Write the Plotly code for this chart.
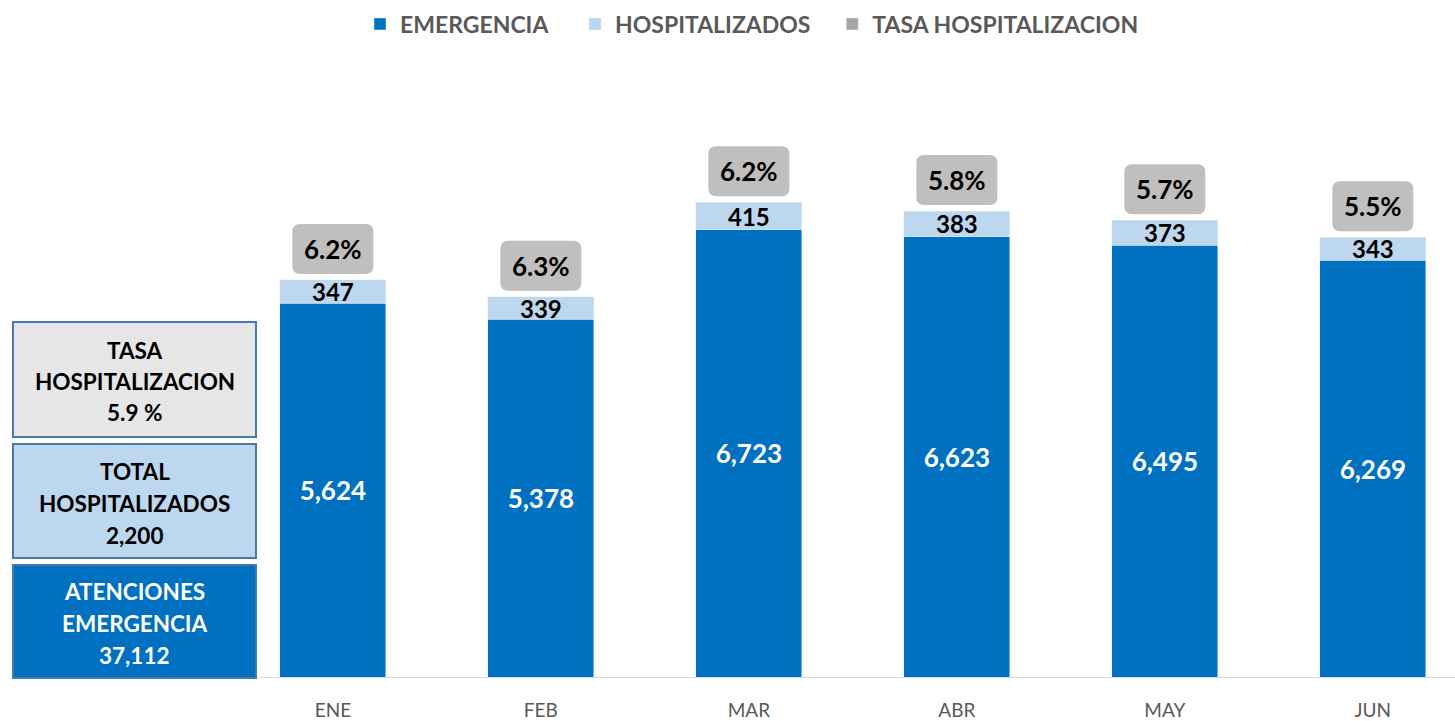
import plotly.graph_objects as go

months = ["ENE", "FEB", "MAR", "ABR", "MAY", "JUN"]
emergencia = [5624, 5378, 6723, 6623, 6495, 6269]
hospitalizados = [347, 339, 415, 383, 373, 343]
tasa = [6.2, 6.3, 6.2, 5.8, 5.7, 5.5]
tasa_total = 5.9

C_EMER = "#0070C0"
C_HOSP = "#BDD7EE"
C_TASA = "#BFBFBF"
C_TASA_LEG = "#A5A5A5"
FONT = "Lato"
NB = "\u00a0"

W, H = 1455, 721
ML, MR, MT, MB = 258, 0, 60, 44
plot_w = W - ML - MR
plot_h = H - MT - MB
YMAX = 9278
XR = [-0.36, 5.395]
ppu = plot_h / YMAX
ppx = plot_w / (XR[1] - XR[0])

fig = go.Figure()
fig.add_trace(go.Bar(
    x=months, y=emergencia, name="EMERGENCIA" + NB * 4, marker_color=C_EMER, width=0.51,
    text=[f"{v:,}" for v in emergencia], textposition="inside", insidetextanchor="middle",
    textfont=dict(family=FONT, size=26, color="white", weight="bold"),
    hoverinfo="skip",
))
fig.add_trace(go.Bar(
    x=months, y=hospitalizados, name="HOSPITALIZADOS" + NB * 3, marker_color=C_HOSP, width=0.51,
    hoverinfo="skip",
))
fig.add_trace(go.Bar(
    x=months, y=[None] * len(months), name="TASA HOSPITALIZACION", marker_color=C_TASA_LEG,
    hoverinfo="skip",
))

shapes = []
annotations = []
for i, m in enumerate(months):
    e, h, t = emergencia[i], hospitalizados[i], tasa[i]
    annotations.append(dict(x=m, y=e + h / 2, text=f"{h:,}", showarrow=False,
                            font=dict(family=FONT, size=24, color="black", weight="bold"),
                            xref="x", yref="y"))
    cy = e + h + 31 / ppu
    hw, hh = 40.5 / ppx, 25 / ppu
    rx, ry = 8 / ppx, 8 / ppu
    x0, x1 = i - hw, i + hw
    y0, y1 = cy - hh, cy + hh
    path = (f"M {x0+rx},{y0} L {x1-rx},{y0} Q {x1},{y0} {x1},{y0+ry} "
            f"L {x1},{y1-ry} Q {x1},{y1} {x1-rx},{y1} L {x0+rx},{y1} "
            f"Q {x0},{y1} {x0},{y1-ry} L {x0},{y0+ry} Q {x0},{y0} {x0+rx},{y0} Z")
    shapes.append(dict(type="path", path=path, xref="x", yref="y",
                       fillcolor=C_TASA, line=dict(width=0), layer="above"))
    annotations.append(dict(x=i, y=cy, text=f"{t:.1f}%", showarrow=False,
                            font=dict(family=FONT, size=26, color="black", weight="bold"),
                            xref="x", yref="y"))


def px_x(px):
    return (px - ML) / plot_w


def px_y(py):
    return (H - MB - py) / plot_h


boxes = [
    (322, 437, "#E7E6E6", "black", ["TASA", "HOSPITALIZACION", f"{tasa_total:.1f} %"], [350, 381, 412]),
    (444, 558, C_HOSP, "black", ["TOTAL", "HOSPITALIZADOS", f"{sum(hospitalizados):,}"], [471, 503, 535]),
    (565, 678, C_EMER, "white", ["ATENCIONES", "EMERGENCIA", f"{sum(emergencia):,}"], [591, 623, 655]),
]
for top, bot, fill, tc, lines, ys in boxes:
    shapes.append(dict(type="rect", xref="paper", yref="paper",
                       x0=px_x(13), x1=px_x(256), y0=px_y(bot), y1=px_y(top),
                       fillcolor=fill, line=dict(color="#4A78A8", width=2), layer="above"))
    for ln, yy in zip(lines, ys):
        annotations.append(dict(x=px_x(134.5), y=px_y(yy), xref="paper", yref="paper",
                                text=ln, showarrow=False, xanchor="center", yanchor="middle",
                                font=dict(family=FONT, size=22.5, color=tc, weight="bold")))

fig.update_layout(
    barmode="stack",
    width=W, height=H,
    margin=dict(l=ML, r=MR, t=MT, b=MB),
    plot_bgcolor="white", paper_bgcolor="white",
    shapes=shapes, annotations=annotations,
    showlegend=True,
    legend=dict(orientation="h", x=px_x(752), xanchor="center", y=px_y(24), yanchor="middle",
                font=dict(family=FONT, size=23, color="#595959", weight="bold"),
                itemclick=False, itemdoubleclick=False, traceorder="normal"),
    xaxis=dict(range=XR, showline=True, linecolor="#D9D9D9", linewidth=1, automargin=False,
               tickfont=dict(family=FONT, size=19, color="#595959"),
               ticks="", ticklabelstandoff=16, showgrid=False, zeroline=False,
               tickmode="array", tickvals=list(range(len(months))), ticktext=months),
    yaxis=dict(range=[0, YMAX], visible=False, showgrid=False, zeroline=False, automargin=False),
    uniformtext=dict(mode=False),
)

fig.write_html("out.html", config={"displayModeBar": False},
               post_script="document.body.style.margin='0';document.body.style.overflow='hidden';")
